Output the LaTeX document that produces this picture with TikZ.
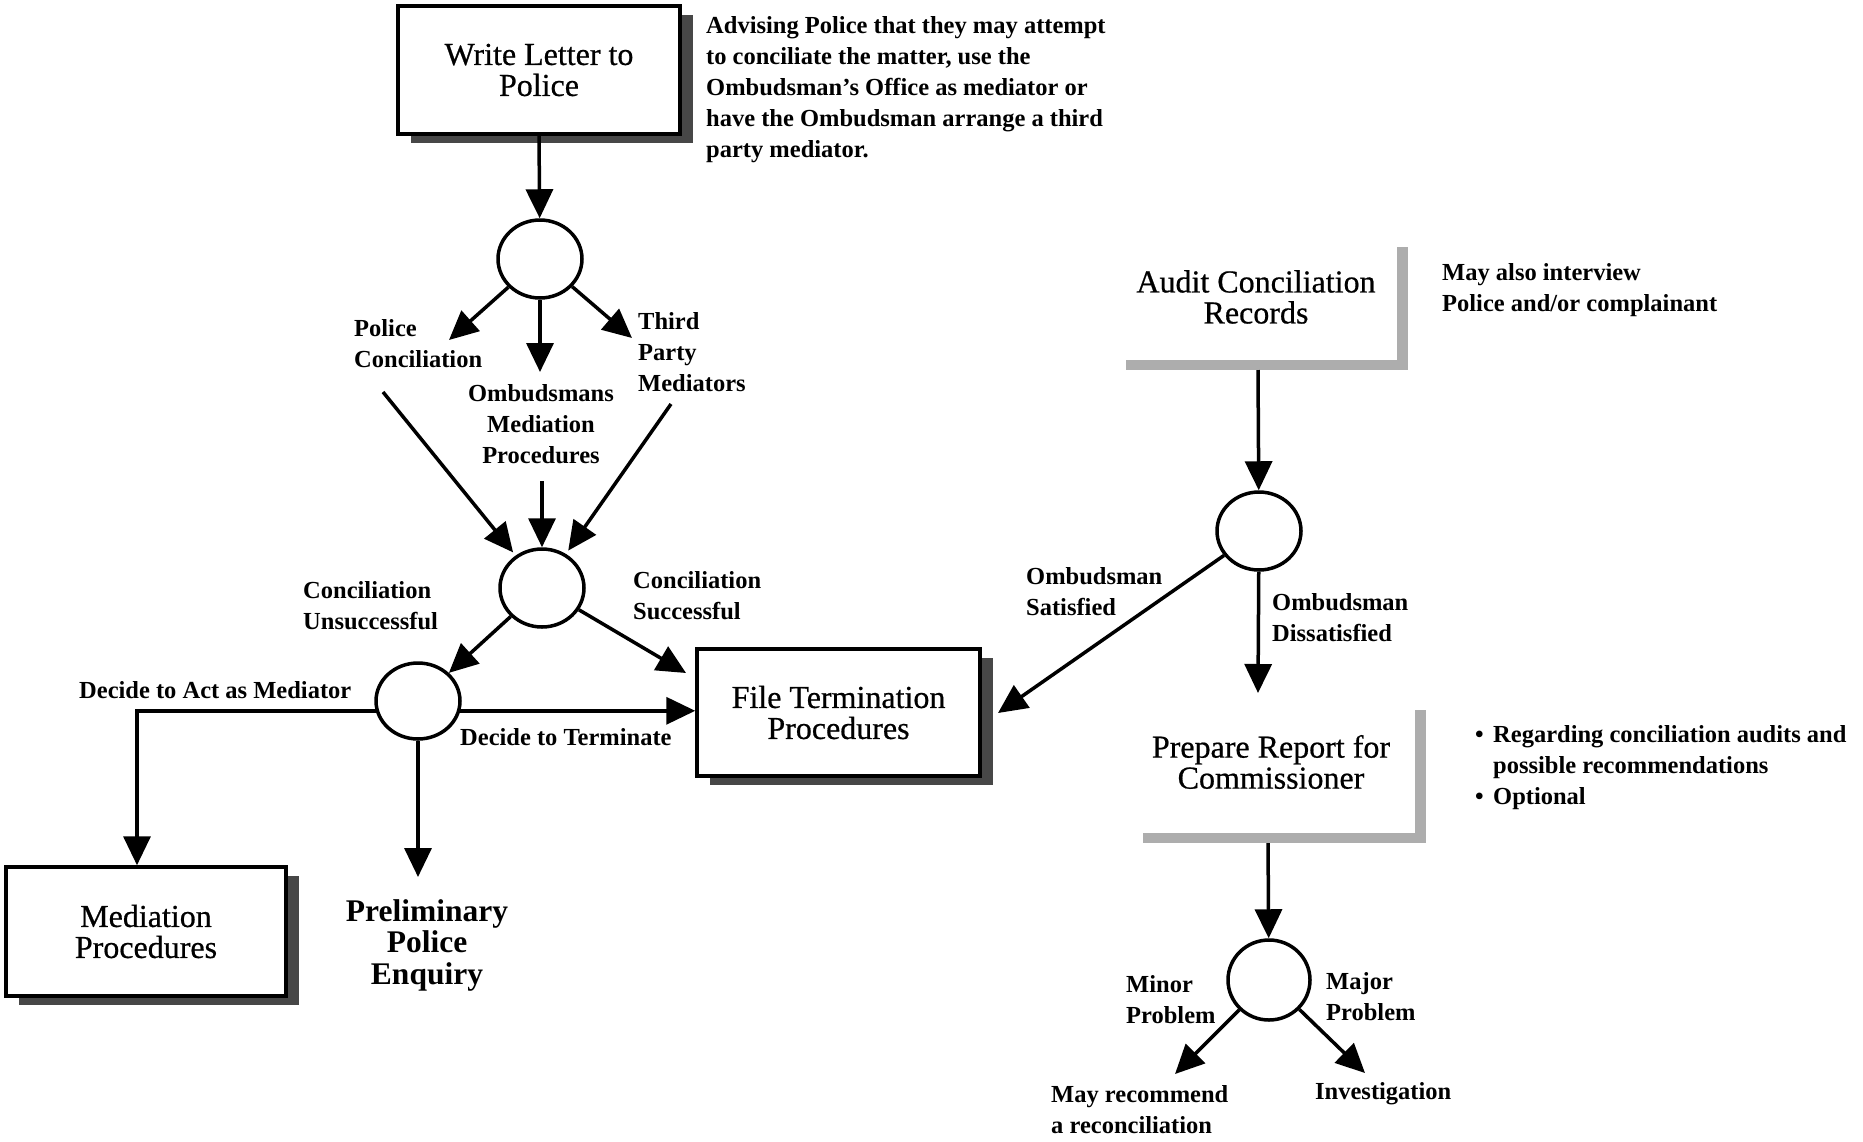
\documentclass[tikz,border=0pt]{standalone}
\usepackage{fontspec}
\setmainfont{Liberation Serif}
\newfontfamily\boxfont[FakeBold=0.6]{Liberation Serif}
\usetikzlibrary{arrows.meta,shapes.geometric,shadows}
\tikzset{
  bigtip/.tip={Triangle[length=29pt,width=27pt]}}
\begin{document}
\begin{tikzpicture}[x=1pt,y=-1pt,
  arr/.style={line width=3.5pt,-bigtip},
  junction/.style={ellipse,draw,line width=3.5pt,minimum width=84pt,minimum height=78pt,inner sep=0pt},
  boxtext/.style={font=\boxfont\fontsize{32}{31}\selectfont,align=center,inner sep=0pt},
  procbox/.style={draw,fill=white,line width=3.5pt,boxtext,
    drop shadow={shadow xshift=13pt,shadow yshift=-9pt,fill=black!72,opacity=1}},
  lbl/.style={font=\bfseries\fontsize{24.5}{31}\selectfont,align=left,inner sep=0pt,anchor=west},
  lblc/.style={lbl,align=center,anchor=center},
  stipple/.style={fill=black!32}]
\useasboundingbox[fill=white] (0,0) rectangle (1863,1141);

% ---------- left branch: letter to police ----------
\node[procbox,minimum width=282pt,minimum height=128pt] (wl) at (539,70) {Write Letter to\\Police};
\node[lbl] (advise) at (706,90) {Advising Police that they may attempt\\to conciliate the matter, use the\\Ombudsman's Office as mediator or\\have the Ombudsman arrange a third\\party mediator.};

\node[junction] (c1) at (540,259) {};
\draw[arr] (wl.south) -- (c1);

\coordinate (pcTip) at (449,340);
\coordinate (mcTip) at (540,372);
\coordinate (tcTip) at (632,338);
\draw[arr] (c1) -- (pcTip);
\draw[arr] (c1) -- (mcTip);
\draw[arr] (c1) -- (tcTip);

\node[lbl] (lpc) at (354,344) {Police\\Conciliation};
\node[lblc] (lom) at (541,424) {Ombudsmans\\Mediation\\Procedures};
\node[lbl] (ltp) at (638,352) {Third\\Party\\Mediators};

\node[junction] (c2) at (542,588) {};
\coordinate (pcFrom) at (383,392);
\coordinate (omFrom) at (542,481);
\coordinate (tpFrom) at (671,404);
\draw[arr,shorten >=4pt] (pcFrom) -- (c2);
\draw[arr] (omFrom) -- (c2);
\draw[arr,shorten >=4pt] (tpFrom) -- (c2);

\node[lbl] (lcu) at (303,606) {Conciliation\\Unsuccessful};
\node[lbl] (lcs) at (633,596) {Conciliation\\Successful};

\node[procbox,minimum width=283pt,minimum height=127pt] (ft) at (838.5,712.5) {File Termination\\Procedures};

\node[junction,minimum height=76pt] (c3) at (418,701) {};
\draw[arr] (c2) -- (c3);
\coordinate (ftIn) at (686,673);
\draw[arr] (c2) -- (ftIn);

\node[procbox,minimum width=280pt,minimum height=129pt] (med) at (146,931.5) {Mediation\\Procedures};
\draw[arr] (c3.193) -| ([xshift=-9pt]med.north);
\node[lbl] (lact) at (79,690) {Decide to Act as Mediator};

\draw[arr] (c3.347) -- (ft.west |- c3.347);
\node[lbl] (lterm) at (460,737) {Decide to Terminate};

\node[boxtext,font=\bfseries\fontsize{31.5}{31.5}\selectfont] (pre) at (427,945) {Preliminary\\Police\\Enquiry};
\coordinate (preIn) at (418,877);
\draw[arr] (c3) -- (preIn);

% ---------- right branch: audit ----------
\node[boxtext] (audit) at (1256,297) {Audit Conciliation\\Records};
\fill[stipple] (1126,360) rectangle (1408,370);
\fill[stipple] (1397,247) rectangle (1408,370);
\coordinate (auditOut) at (1258,370);
\node[lbl] (linterview) at (1442,290) {May also interview\\Police and/or complainant};

\node[junction] (c4) at (1259,531) {};
\draw[arr] (auditOut) -- (c4);

\coordinate (ftRight) at (998,713);
\draw[arr] (c4) -- (ftRight);
\node[lbl] (lsat) at (1026,592) {Ombudsman\\Satisfied};

\coordinate (repIn) at (1258,693);
\draw[arr] (c4) -- (repIn);
\node[lbl] (ldis) at (1272,618) {Ombudsman\\Dissatisfied};

\node[boxtext] (report) at (1271,762) {Prepare Report for\\Commissioner};
\fill[stipple] (1143,833) rectangle (1426,843);
\fill[stipple] (1415,710) rectangle (1426,843);
\coordinate (reportOut) at (1268,843);
\node[lbl] (lnotes) at (1475,768) {\makebox[18pt][l]{\textbullet}Regarding conciliation audits and\\\hspace*{18pt}possible recommendations\\\makebox[18pt][l]{\textbullet}Optional};

\node[junction,minimum width=82pt,minimum height=80pt] (c5) at (1269,980) {};
\draw[arr] (reportOut) -- (c5);

\coordinate (minorTip) at (1175,1074);
\coordinate (majorTip) at (1365,1073);
\draw[arr] (c5) -- (minorTip);
\draw[arr] (c5) -- (majorTip);
\node[lbl] (lminor) at (1126,1000) {Minor\\Problem};
\node[lbl] (lmajor) at (1326,997) {Major\\Problem};
\node[lbl] (lrec) at (1051,1110) {May recommend\\a reconciliation};
\node[lbl] (linv) at (1315,1094) {Investigation};
\end{tikzpicture}
\end{document}
